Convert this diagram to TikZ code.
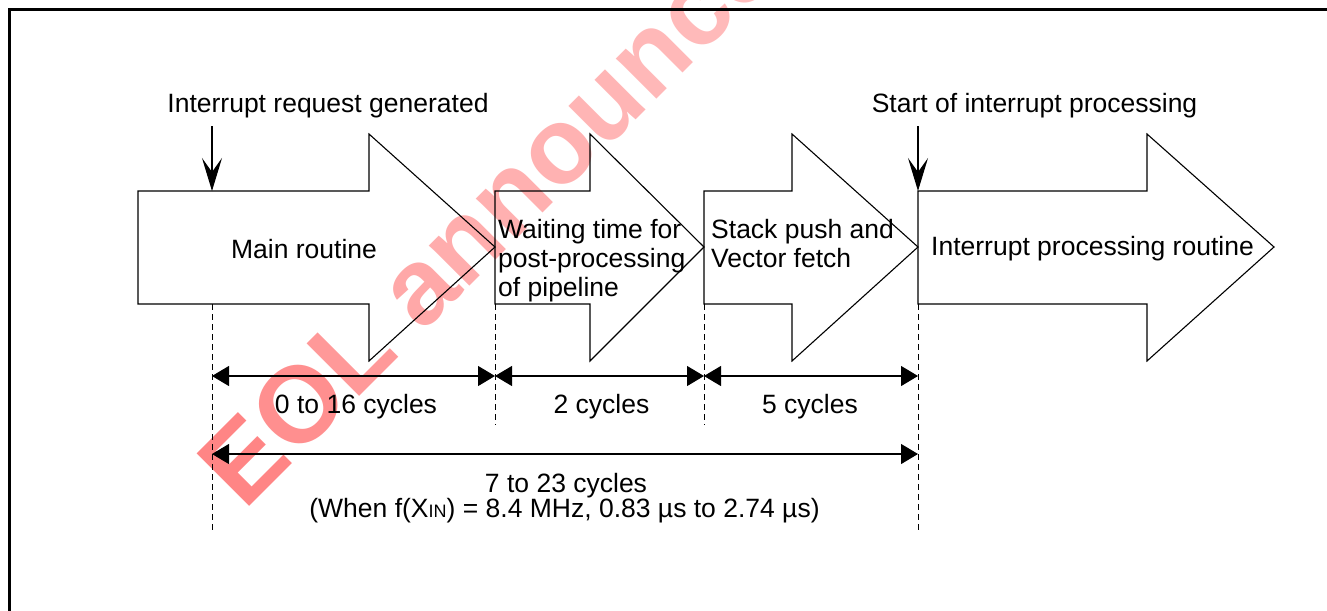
\documentclass[tikz,border=0pt]{standalone}
\usepackage{fontspec}
\setmainfont{Liberation Sans}
\usetikzlibrary{arrows.meta}
\begin{document}
\begin{tikzpicture}[x=1pt,y=-1pt,
  lbl/.style={inner sep=0pt, font=\fontsize{26.5}{29}\selectfont},
  bigarrow/.style={draw=black, line width=1.1pt, line join=miter},
  dimline/.style={line width=1.1pt, {Triangle[length=17pt,width=20pt]}-{Triangle[length=17pt,width=20pt]}},
  guide/.style={line width=1pt, dash pattern=on 6pt off 4pt},
  evtarrow/.style={line width=1.1pt, -{Stealth[length=33pt,width=20pt,inset=14pt]}},
  wmark/.style={rotate=45, anchor=base west, inner sep=0pt, font=\bfseries\fontsize{108}{108}\selectfont},
]
\useasboundingbox (0,0) rectangle (1327,610);
\clip (0,0) rectangle (1327,610);
\fill[white] (0,0) rectangle (1327,610);

% watermark
\node[wmark] (wm) at (244,512) {\textcolor{red!48!white}{E}\textcolor{red!44!white}{O}\textcolor{red!40!white}{L} \textcolor{red!34!white}{a}\textcolor{red!32!white}{n}\textcolor{red!31!white}{n}\textcolor{red!30!white}{o}\textcolor{red!29!white}{u}\textcolor{red!28!white}{n}\textcolor{red!27!white}{c}\textcolor{red!26!white}{ed}};

% frame
\draw[line width=3pt] (9,10) rectangle (1345,630);

% big arrows
\draw[bigarrow] (138,191) -- (369,191) -- (369,134) -- (495,247) -- (369,361) -- (369,304) -- (138,304) -- cycle;
\draw[bigarrow] (495,191) -- (590,191) -- (590,134) -- (704,247) -- (590,361) -- (590,304) -- (495,304) -- cycle;
\draw[bigarrow] (704,191) -- (792,191) -- (792,134) -- (918,247) -- (792,361) -- (792,304) -- (704,304) -- cycle;
\draw[bigarrow] (918,191) -- (1147,191) -- (1147,134) -- (1274,247) -- (1147,361) -- (1147,304) -- (918,304) -- cycle;

% texts inside arrows (base anchor = baseline of the last line)
\node[lbl, anchor=base] (main) at (304,258) {Main routine};
\node[lbl, anchor=base west, align=left] (wait) at (498,296) {Waiting time for\\post-processing\\of pipeline};
\node[lbl, anchor=base west, align=left] (stack) at (711,267) {Stack push and\\Vector fetch};
\node[lbl, anchor=base west] (isr) at (931,255) {Interrupt processing routine};

% event labels and arrows
\node[lbl, anchor=base] (irq) at (328,112) {Interrupt request generated};
\node[lbl, anchor=base] (start) at (1034.5,112) {Start of interrupt processing};
\coordinate (irqtop) at (212,126);
\coordinate (irqhit) at (212,191);
\coordinate (starttop) at (918,126);
\coordinate (starthit) at (918,191);
\draw[evtarrow] (irqtop) -- (irqhit);
\draw[evtarrow] (starttop) -- (starthit);

% dashed guides
\coordinate (g1t) at (212,304); \coordinate (g1b) at (212,533);
\coordinate (g2t) at (495,304); \coordinate (g2b) at (495,425);
\coordinate (g3t) at (704,304); \coordinate (g3b) at (704,425);
\coordinate (g4t) at (918,304); \coordinate (g4b) at (918,533);
\draw[guide] (g1t) -- (g1b);
\draw[guide] (g2t) -- (g2b);
\draw[guide] (g3t) -- (g3b);
\draw[guide] (g4t) -- (g4b);

% dimension lines
\coordinate (d1) at (212,376); \coordinate (d2) at (495,376);
\coordinate (d3) at (704,376); \coordinate (d4) at (918,376);
\coordinate (t1) at (212,454); \coordinate (t2) at (918,454);
\draw[dimline] (d1) -- (d2);
\draw[dimline] (d2) -- (d3);
\draw[dimline] (d3) -- (d4);
\draw[dimline] (t1) -- (t2);

\node[lbl, anchor=base] (c1) at (356,413) {0 to 16 cycles};
\node[lbl, anchor=base] (c2) at (601.5,413) {2 cycles};
\node[lbl, anchor=base] (c3) at (810,413) {5 cycles};
\node[lbl, anchor=base] (tot) at (566,492) {7 to 23 cycles};
\node[lbl, anchor=base] (when) at (564.5,517) {(When f(X{\fontsize{18}{18}\selectfont IN}) = 8.4 MHz, 0.83 µs to 2.74 µs)};
\end{tikzpicture}
\end{document}
